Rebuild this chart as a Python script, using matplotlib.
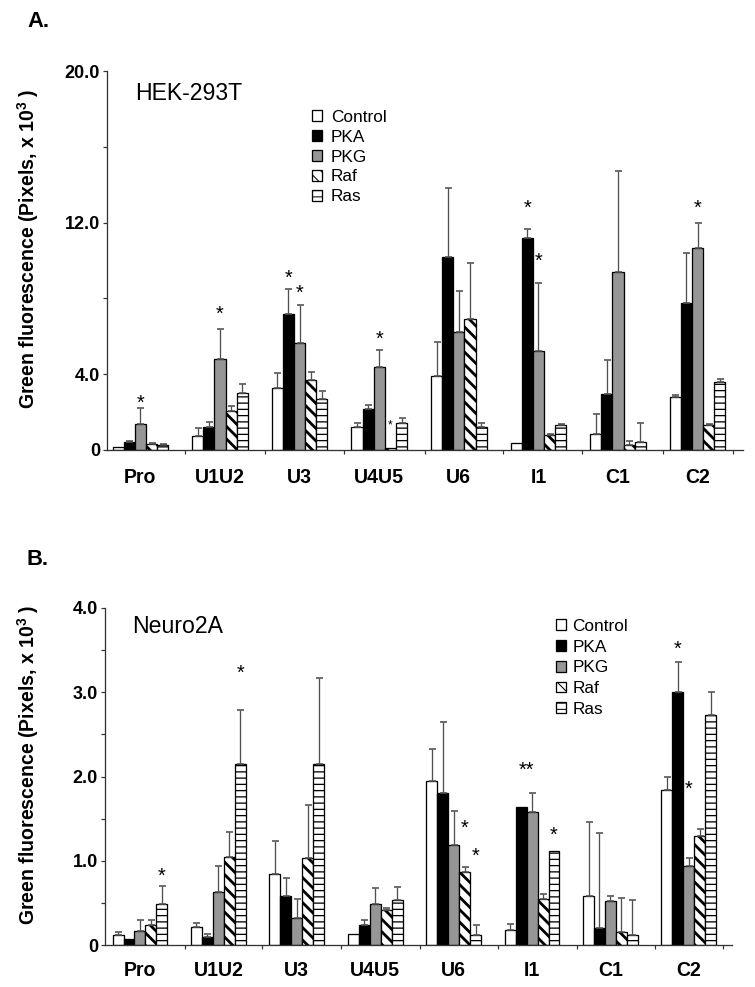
import matplotlib
matplotlib.use('Agg')
import matplotlib.pyplot as plt
from matplotlib.patches import Patch
import numpy as np

# ---------------- data ----------------
categories = ['Pro', 'U1U2', 'U3', 'U4U5', 'U6', 'I1', 'C1', 'C2']
series = ['Control', 'PKA', 'PKG', 'Raf', 'Ras']

# Panel A: HEK-293T (Pixels x 10^3)
a_control = [0.18, 0.74, 3.25, 1.23, 3.90, 0.35, 0.83, 2.81]
a_pka     = [0.44, 1.20, 7.16, 2.16, 10.2, 11.17, 2.94, 7.77]
a_pkg     = [1.35, 4.80, 5.63, 4.40, 6.24, 5.22, 9.41, 10.68]
a_raf     = [0.30, 2.08, 3.70, 0.10, 6.90, 0.80, 0.26, 1.32]
a_ras     = [0.28, 3.03, 2.67, 1.40, 1.23, 1.32, 0.44, 3.60]
a_control_err = [0.00, 0.40, 0.83, 0.17, 1.80, 0.00, 1.07, 0.09]
a_pka_err     = [0.05, 0.30, 1.34, 0.24, 3.60, 0.48, 1.81, 2.63]
a_pkg_err     = [0.85, 1.60, 2.02, 0.88, 2.16, 3.58, 5.33, 1.32]
a_raf_err     = [0.05, 0.26, 0.43, 0.00, 2.95, 0.05, 0.24, 0.05]
a_ras_err     = [0.03, 0.47, 0.43, 0.30, 0.17, 0.05, 0.96, 0.13]
# stars: (category index, series position, y value, text, size scale)
a_stars = [(0, 2, 2.8, '*', 1.0), (1, 2, 7.5, '*', 1.0), (2, 1, 9.4, '*', 1.0),
           (2, 2, 8.6, '*', 1.0), (3, 2, 6.17, '*', 1.0), (3, 3, 1.5, '*', 0.6),
           (5, 1, 13.1, '*', 1.0), (5, 2, 10.3, '*', 1.0), (7, 2, 13.1, '*', 1.0)]
a_yticks = [0, 4, 8, 12, 16, 20]
a_yticklabels = ['0', '4.0', '', '12.0', '', '20.0']

# Panel B: Neuro2A
b_control = [0.12, 0.21, 0.84, 0.13, 1.95, 0.18, 0.58, 1.84]
b_pka     = [0.07, 0.10, 0.58, 0.24, 1.80, 1.64, 0.20, 3.00]
b_pkg     = [0.17, 0.63, 0.32, 0.49, 1.19, 1.58, 0.52, 0.94]
b_raf     = [0.24, 1.05, 1.03, 0.42, 0.87, 0.55, 0.15, 1.29]
b_ras     = [0.49, 2.15, 2.15, 0.53, 0.12, 1.11, 0.12, 2.73]
b_control_err = [0.04, 0.05, 0.39, 0.00, 0.38, 0.07, 0.88, 0.16]
b_pka_err     = [0.00, 0.03, 0.22, 0.06, 0.85, 0.00, 1.13, 0.36]
b_pkg_err     = [0.13, 0.31, 0.23, 0.19, 0.40, 0.23, 0.06, 0.09]
b_raf_err     = [0.06, 0.29, 0.63, 0.02, 0.05, 0.05, 0.41, 0.09]
b_ras_err     = [0.21, 0.64, 1.02, 0.16, 0.12, 0.00, 0.41, 0.27]
b_stars = [(0, 4, 0.89, '*', 1.0), (1, 4, 3.3, '*', 1.0), (4, 3, 1.46, '*', 1.0),
           (4, 4, 1.13, '*', 1.0), (5, 1.5, 2.15, '**', 1.0), (5, 4, 1.38, '*', 1.0),
           (7, 1, 3.58, '*', 1.0), (7, 2, 1.92, '*', 1.0)]
b_yticks = [0, 1, 2, 3, 4]
b_yticklabels = ['0', '1.0', '2.0', '3.0', '4.0']

# ---------------- styling ----------------
DPI = 75
W, H = 755, 987


def pt(px):
    return px * 72.0 / DPI


plt.rcParams['font.family'] = ['Liberation Sans', 'DejaVu Sans']
plt.rcParams['hatch.color'] = 'black'
plt.rcParams['mathtext.fontset'] = 'custom'
plt.rcParams['mathtext.bf'] = 'Liberation Sans:bold'
plt.rcParams['mathtext.rm'] = 'Liberation Sans'

facecolors = ['white', 'black', '#969696', 'white', 'white']
hatches = [None, None, None, '\\\\', '--']
hatch_lw = [1.0, 1.0, 1.0, pt(2.8), pt(1.3)]
AXC = '#333333'
ERRC = '#505050'

fig = plt.figure(figsize=(W / DPI, H / DPI), dpi=DPI)


def add_axes(left, right, top, bottom):
    return fig.add_axes([left / W, 1 - bottom / H, (right - left) / W, (bottom - top) / H])


def make_handles():
    hs = []
    for s in range(5):
        with plt.rc_context({'hatch.linewidth': hatch_lw[s]}):
            p = Patch(facecolor=facecolors[s], edgecolor='black', hatch=hatches[s],
                      linewidth=pt(1.3), label=series[s])
        if hatches[s] and hasattr(p, 'set_hatch_linewidth'):
            p.set_hatch_linewidth(hatch_lw[s])
        hs.append(p)
    return hs


def draw_panel(ax, means, errs, stars, xlim, ylim, yticks, yticklabels, yminor,
               bounds, catpad):
    x = np.arange(len(categories))
    bw = 0.14
    for s in range(5):
        off = (s - 2) * bw
        with plt.rc_context({'hatch.linewidth': hatch_lw[s]}):
            bars = ax.bar(x + off, means[s], width=bw, facecolor=facecolors[s],
                          edgecolor='black', linewidth=pt(1.3), hatch=hatches[s],
                          zorder=2)
        if hatches[s]:
            for b in bars:
                if hasattr(b, 'set_hatch_linewidth'):
                    b.set_hatch_linewidth(hatch_lw[s])
        e = np.asarray(errs[s], float)
        m = np.asarray(means[s], float)
        mask = e > 0
        ax.errorbar((x + off)[mask], m[mask],
                    yerr=[np.zeros(mask.sum()), e[mask]], fmt='none',
                    ecolor=ERRC, elinewidth=pt(1.3), capsize=pt(3.5),
                    capthick=pt(1.6), zorder=3)
    for (ci, sp, yv, txt, sc) in stars:
        em = 20 * sc
        ax.annotate(txt, xy=(ci + (sp - 2) * bw, yv), xytext=(0, -pt(0.58 * em)),
                    textcoords='offset points', ha='center', va='baseline',
                    fontsize=pt(em), color='black', zorder=4)
    ax.set_xlim(*xlim)
    ax.set_ylim(*ylim)
    ax.set_yticks(yticks)
    ax.set_yticklabels(yticklabels, fontweight='bold', fontsize=pt(18))
    if yminor:
        ax.set_yticks(yminor, minor=True)
    ax.set_xticks(x)
    ax.set_xticklabels(categories, fontweight='bold', fontsize=pt(19.5))
    ax.set_xticks(bounds, minor=True)
    ax.tick_params(axis='x', which='major', length=0, pad=pt(catpad))
    ax.tick_params(axis='x', which='minor', direction='out', length=pt(4),
                   width=pt(1.2), color=AXC)
    ax.tick_params(axis='y', which='both', direction='out', length=pt(4),
                   width=pt(1.2), color=AXC, pad=pt(3))
    for sp in ['top', 'right']:
        ax.spines[sp].set_visible(False)
    for sp in ['left', 'bottom']:
        ax.spines[sp].set_linewidth(pt(1.3))
        ax.spines[sp].set_color(AXC)
    ax.patch.set_alpha(0)


# Panel A
axA = add_axes(107, 743, 71, 450)
draw_panel(axA,
           [a_control, a_pka, a_pkg, a_raf, a_ras],
           [a_control_err, a_pka_err, a_pkg_err, a_raf_err, a_ras_err],
           a_stars, (-0.42, 7.57), (0, 20), a_yticks, a_yticklabels, None,
           [0.56, 1.56, 2.56, 3.57, 4.55, 5.55, 6.56, 7.44], 18)
legA = axA.legend(handles=make_handles(), loc='upper left',
                  bbox_to_anchor=(312 / W, 1 - 110 / H), bbox_transform=fig.transFigure,
                  frameon=False, fontsize=pt(17.2), handlelength=0.6, handleheight=0.6,
                  handletextpad=0.5, labelspacing=0.28, borderpad=0, borderaxespad=0)

# Panel B
axB = add_axes(105, 732, 608, 945)
draw_panel(axB,
           [b_control, b_pka, b_pkg, b_raf, b_ras],
           [b_control_err, b_pka_err, b_pkg_err, b_raf_err, b_ras_err],
           b_stars, (-0.446, 7.55), (0, 4), b_yticks, b_yticklabels,
           [0.5, 1.5, 2.5, 3.5],
           [0.57, 1.56, 2.56, 3.57, 4.57, 5.57, 6.57, 7.44], 16)
legB = axB.legend(handles=make_handles(), loc='upper left',
                  bbox_to_anchor=(556 / W, 1 - 619 / H), bbox_transform=fig.transFigure,
                  frameon=False, fontsize=pt(17.2), handlelength=0.6, handleheight=0.6,
                  handletextpad=0.35, labelspacing=0.33, borderpad=0, borderaxespad=0)

# texts
ylabel = r'Green fluorescence (Pixels, x 10$^{\mathbf{3}}$ )'
fig.text(28 / W, 1 - 249 / H, ylabel, rotation=90, ha='center', va='center',
         fontsize=pt(19.5), fontweight='bold')
fig.text(28 / W, 1 - 765 / H, ylabel, rotation=90, ha='center', va='center',
         fontsize=pt(19.5), fontweight='bold')
fig.text(135 / W, 1 - 100 / H, 'HEK-293T', ha='left', va='baseline', fontsize=pt(23))
fig.text(132 / W, 1 - 633 / H, 'Neuro2A', ha='left', va='baseline', fontsize=pt(23))
fig.text(27 / W, 1 - 27 / H, 'A.', ha='left', va='baseline', fontsize=pt(22), fontweight='bold')
fig.text(27 / W, 1 - 565 / H, 'B.', ha='left', va='baseline', fontsize=pt(22), fontweight='bold')

fig.savefig('out.png', dpi=DPI, facecolor='white')
